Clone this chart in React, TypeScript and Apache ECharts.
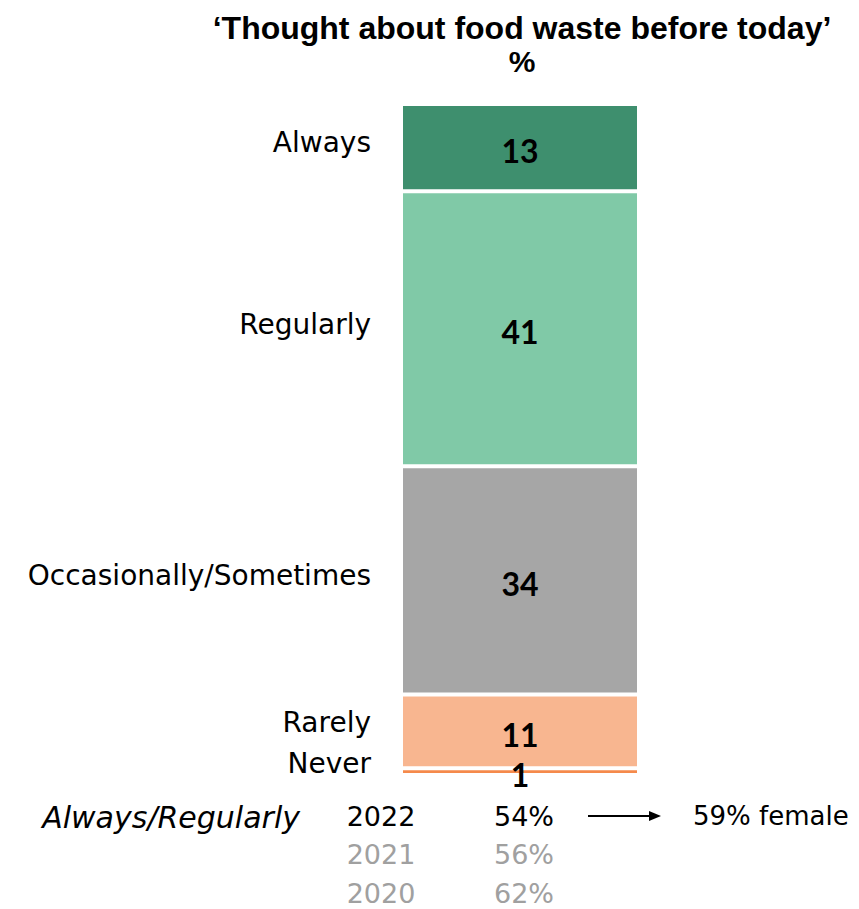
import React, { useEffect, useRef } from "react";
import * as echarts from "echarts";

// Survey answers, top of bar first
const categories = ["Always", "Regularly", "Occasionally/Sometimes", "Rarely", "Never"];
const values = [13, 41, 34, 11, 1];
const colors = ["#3E8F6E", "#80C9A7", "#A6A6A6", "#F8B690", "#F58A4B"];

// Always/Regularly trend
const years = ["2022", "2021", "2020"];
const yearShares = [54, 56, 62];
const yearColors = ["#000000", "#A0A0A0", "#A0A0A0"];
const femaleShare = 59;

const titleText = "‘Thought about food waste before today’";

// vertical nudges for the category captions (px)
const captionNudge = [-5, -4, -5, -9, -8];

const GOTHIC = "'DejaVu Sans', 'Noto Sans', sans-serif";

export default function App() {
  const ref = useRef<HTMLDivElement>(null);

  useEffect(() => {
    if (!ref.current) return;
    const chart = echarts.init(ref.current, null, { renderer: "svg" });

    const order = categories.map((_, i) => i).reverse(); // bottom of stack first
    const series = order.map((i) => ({
      name: categories[i],
      type: "bar",
      stack: "total",
      data: [values[i]],
      barWidth: "100%",
      itemStyle: { color: colors[i], borderColor: "#ffffff", borderWidth: 2 },
      label: {
        show: true,
        position: "inside",
        offset: [0, 3],
        formatter: "{c}",
        color: "#000",
        fontFamily: "Lato, 'Open Sans', sans-serif",
        fontWeight: "bold",
        fontSize: 32,
      },
    }));

    chart.setOption({
      animation: false,
      grid: { left: 401, width: 238, top: 104, height: 671 },
      xAxis: { type: "category", data: [""], show: false },
      yAxis: { type: "value", min: 0, max: 100, show: false },
      series,
    });

    // category captions placed against each segment's centre
    const graphics: any[] = [];
    let acc = 0;
    const mids: number[] = new Array(values.length);
    for (const i of order) {
      mids[i] = acc + values[i] / 2;
      acc += values[i];
    }
    categories.forEach((name, i) => {
      const p = chart.convertToPixel({ gridIndex: 0 }, [0, mids[i]]) as number[];
      graphics.push({
        type: "text",
        x: 371,
        y: p[1] + captionNudge[i],
        style: {
          text: name,
          align: "right",
          verticalAlign: "middle",
          fill: "#000",
          font: `28px ${GOTHIC}`,
        },
      });
    });

    graphics.push(
      {
        type: "text",
        x: 522,
        y: 28,
        style: {
          text: titleText,
          align: "center",
          verticalAlign: "middle",
          fill: "#000",
          font: `bold 32px 'Liberation Sans', Arial, sans-serif`,
        },
      },
      {
        type: "text",
        x: 522,
        y: 61,
        style: {
          text: "%",
          align: "center",
          verticalAlign: "middle",
          fill: "#000",
          font: `bold 30px 'Liberation Sans', Arial, sans-serif`,
        },
      },
      {
        type: "text",
        x: 300,
        y: 817,
        style: {
          text: "Always/Regularly",
          align: "right",
          verticalAlign: "middle",
          fill: "#000",
          font: `italic 30px ${GOTHIC}`,
        },
      }
    );

    years.forEach((yr, i) => {
      const y = 816 + i * 38.5;
      graphics.push(
        {
          type: "text",
          x: 381,
          y,
          style: {
            text: yr,
            align: "center",
            verticalAlign: "middle",
            fill: yearColors[i],
            font: `27px ${GOTHIC}`,
          },
        },
        {
          type: "text",
          x: 524,
          y,
          style: {
            text: `${yearShares[i]}%`,
            align: "center",
            verticalAlign: "middle",
            fill: yearColors[i],
            font: `27px ${GOTHIC}`,
          },
        }
      );
    });

    graphics.push(
      {
        type: "line",
        shape: { x1: 588, y1: 816, x2: 650, y2: 816 },
        style: { stroke: "#000", lineWidth: 2 },
      },
      {
        type: "polygon",
        shape: { points: [[649, 811], [661, 816], [649, 821]] },
        style: { fill: "#000" },
      },
      {
        type: "text",
        x: 693,
        y: 816,
        style: {
          text: `${femaleShare}% female`,
          align: "left",
          verticalAlign: "middle",
          fill: "#000",
          font: `26px ${GOTHIC}`,
        },
      }
    );

    chart.setOption({ graphic: graphics });

    return () => chart.dispose();
  }, []);

  return (
    <div
      ref={ref}
      style={{ position: "fixed", left: 0, top: 0, width: 859, height: 909, background: "#fff" }}
    />
  );
}
